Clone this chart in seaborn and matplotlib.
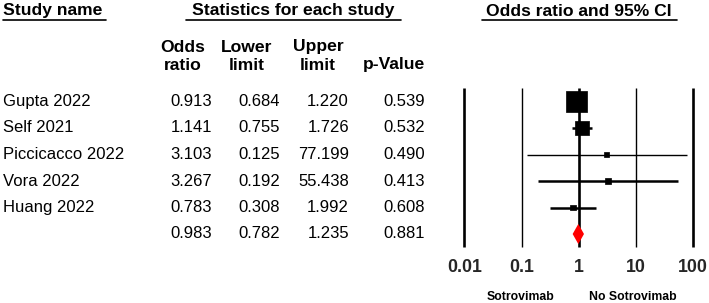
import matplotlib
matplotlib.use("Agg")
import matplotlib.pyplot as plt
import numpy as np
import pandas as pd
import seaborn as sns
from matplotlib.lines import Line2D

studies = ["Gupta 2022", "Self 2021", "Piccicacco 2022", "Vora 2022", "Huang 2022"]
odds_ratio = [0.913, 1.141, 3.103, 3.267, 0.783]
lower_limit = [0.684, 0.755, 0.125, 0.192, 0.308]
upper_limit = [1.220, 1.726, 77.199, 55.438, 1.992]
p_value = [0.539, 0.532, 0.490, 0.413, 0.608]
weight = [61.0, 27.0, 3.5, 4.0, 4.5]

pooled_or = 0.983
pooled_lower = 0.782
pooled_upper = 1.235
pooled_p = 0.881

axis_ticks = [0.01, 0.1, 1, 10, 100]
axis_labels = ["0.01", "0.1", "1", "10", "100"]

sns.set_theme(style="white")
plt.rcParams["font.family"] = ["Liberation Sans", "DejaVu Sans"]

W, H = 709, 303
fig = plt.figure(figsize=(W / 100, H / 100), dpi=100)


def fx(x):
    return x / W


def fy(y):
    return 1 - y / H


def txt(x, y, s, ha="left", bold=False, size=12):
    fig.text(fx(x), fy(y), s, ha=ha, va="center", fontsize=size,
             fontweight="bold" if bold else "normal", color="black")


def underline(x0, x1, y):
    fig.add_artist(Line2D([fx(x0), fx(x1)], [fy(y), fy(y)], color="black", lw=1.2))


# header
hs = 12.6
txt(3, 11, "Study name", bold=True, size=hs)
underline(3, 106, 20)
txt(293, 11, "Statistics for each study", ha="center", bold=True, size=hs)
underline(186, 401, 20)
txt(579, 11, "Odds ratio and 95% CI", ha="center", bold=True, size=hs)
underline(482, 677, 20)

col_centers = [183, 247, 318]
for cx, (a, b) in zip(col_centers, [("Odds", "ratio"), ("Lower", "limit"), ("Upper", "limit")]):
    txt(cx, 47, a, ha="center", bold=True, size=hs)
    txt(cx, 65, b, ha="center", bold=True, size=hs)
txt(425, 65, "p-Value", ha="right", bold=True, size=hs)

row0, step = 101.5, 26.5
num_right = [212, 280, 349, 425]
for i, name in enumerate(studies):
    y = row0 + step * i
    txt(3, y, name)
    for xr, v in zip(num_right, [odds_ratio[i], lower_limit[i], upper_limit[i], p_value[i]]):
        txt(xr, y, f"{v:.3f}", ha="right")
y = row0 + step * len(studies)
for xr, v in zip(num_right, [pooled_or, pooled_lower, pooled_upper, pooled_p]):
    txt(xr, y, f"{v:.3f}", ha="right")

# forest axes: pixel 440..709 horizontally, full height
px_per_dec = 57.15
left_px, right_px = 440, 709
x_lo = -2 - (464.5 - left_px) / px_per_dec
x_hi = 2 + (right_px - 693) / px_per_dec
ax = fig.add_axes([fx(left_px), 0, fx(right_px - left_px), 1])
ax.set_xscale("log")
ax.set_xlim(10 ** x_lo, 10 ** x_hi)
ax.set_ylim((H - row0) / step, -row0 / step)

for t in axis_ticks:
    lw = 1.0 if t in (0.1, 10) else 1.9
    ax.vlines(t, -0.51, 5.49, color="black", lw=lw, zorder=1)

df = pd.DataFrame({
    "study": studies, "or": odds_ratio, "lo": lower_limit,
    "hi": upper_limit, "weight": weight, "row": np.arange(len(studies)),
})
for _, r in df.iterrows():
    ax.hlines(r["row"], r["lo"], r["hi"], color="black",
              lw=1.0 if r["weight"] < 3.8 else 1.8, zorder=2)
sns.scatterplot(data=df, x="or", y="row", size="weight", sizes=(0, 228),
                size_norm=(0, max(weight)), marker="s", color="black",
                edgecolor="black", linewidth=0.5, legend=False, ax=ax, zorder=3)
ax.set_xlabel("")
ax.set_ylabel("")
ax.set_axis_off()

yp = len(studies)
ax.fill([pooled_lower, pooled_or, pooled_upper, pooled_or],
        [yp, yp - 0.38, yp, yp + 0.38], color="red", zorder=4, lw=0)

tick_row = (267 - row0) / step
for t, lab in zip(axis_ticks, axis_labels):
    ax.text(t, tick_row, lab, ha="center", va="center", fontsize=12.8, fontweight="bold")

txt(521, 297, "Sotrovimab", ha="center", bold=True, size=8.8)
txt(633, 297, "No Sotrovimab", ha="center", bold=True, size=8.8)

fig.savefig("out.png", dpi=100)
